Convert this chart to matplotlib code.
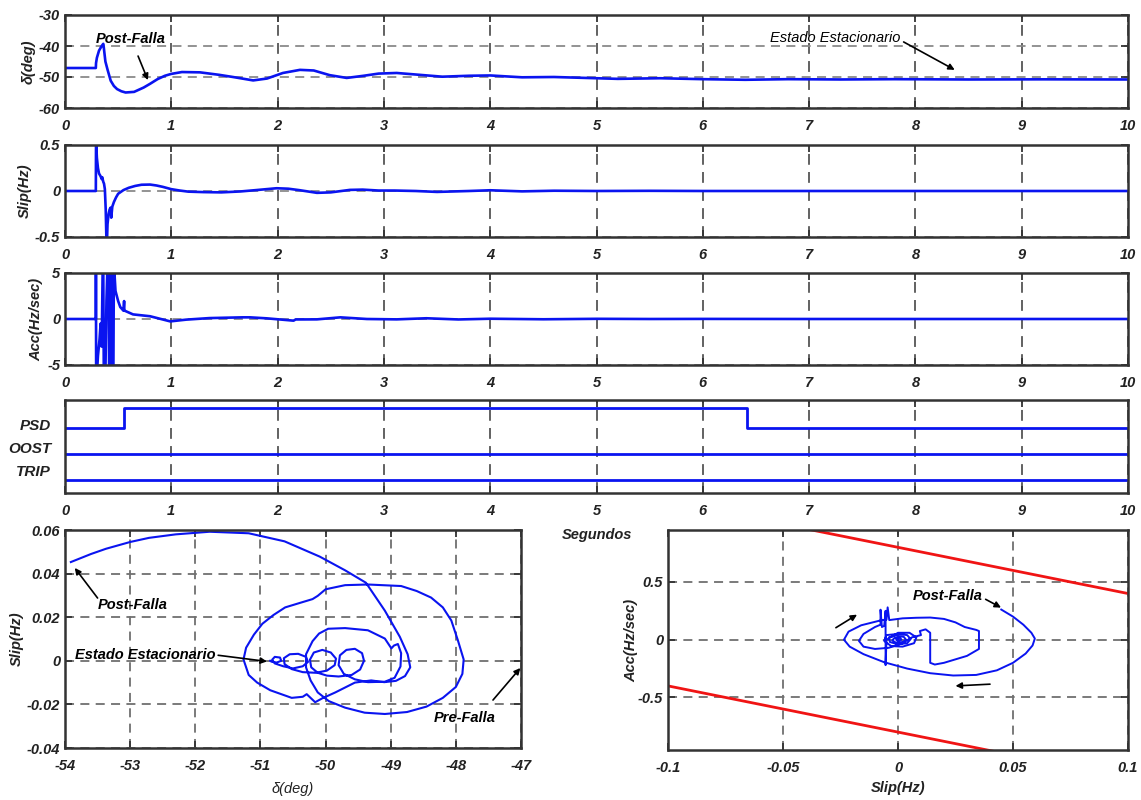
import matplotlib
matplotlib.use("Agg")
import matplotlib.pyplot as plt

plt.rcParams['font.family'] = ['Liberation Sans', 'DejaVu Sans']
plt.rcParams['font.weight'] = 'bold'
plt.rcParams['font.style'] = 'italic'
plt.rcParams['axes.unicode_minus'] = False

BLUE = '#0a14f0'
RED = '#f01414'

# ---------------- time series ----------------
delta_t = [0, 0.29, 0.292, 0.30, 0.32, 0.345, 0.36, 0.365, 0.37, 0.38, 0.40, 0.43, 0.46,
           0.49, 0.53, 0.57, 0.65, 0.74, 0.80, 0.87, 0.94, 1.0, 1.1, 1.27, 1.45, 1.58, 1.77,
           1.9, 2.05, 2.21, 2.34, 2.49, 2.65, 2.81, 2.95, 3.12, 3.3, 3.55, 3.8, 4.0, 4.3,
           4.6, 4.9, 5.2, 5.6, 6.0, 6.4, 6.8, 7.3, 7.8, 8.5, 9.2, 10.0]
delta_v = [-47.1, -47.1, -45.5, -43.8, -41.5, -40.0, -39.3, -40.5, -42.0, -45.0, -47.6,
           -51.2, -52.9, -53.9, -54.6, -55.0, -54.8, -53.4, -52.2, -50.7, -49.6, -49.0,
           -48.4, -48.5, -49.3, -50.0, -51.1, -50.5, -48.7, -47.7, -47.9, -49.4, -50.3,
           -49.6, -48.9, -48.7, -49.2, -49.9, -49.6, -49.5, -50.1, -50.0, -50.3, -50.6,
           -50.4, -50.7, -50.9, -50.7, -50.8, -50.7, -50.8, -50.75, -50.8]

slip_t = [0, 0.29, 0.292, 0.30, 0.31, 0.32, 0.335, 0.345, 0.35, 0.36, 0.367, 0.375, 0.383,
          0.39, 0.395, 0.40, 0.41, 0.42, 0.43, 0.435, 0.445, 0.46, 0.48, 0.50, 0.55, 0.6,
          0.66, 0.72, 0.8, 0.86, 0.92, 1.0, 1.08, 1.16, 1.3, 1.47, 1.65, 1.8, 1.99, 2.1,
          2.2, 2.37, 2.5, 2.68, 2.8, 2.95, 3.1, 3.3, 3.5, 3.8, 4.0, 4.3, 4.6, 5.0, 5.5,
          6.0, 7.0, 8.0, 9.0, 10.0]
slip_v = [0, 0, 0.55, 0.36, 0.25, 0.19, 0.16, 0.13, 0.15, 0.10, 0.08, 0.02, -0.2, -0.55,
          -0.55, -0.36, -0.25, -0.2, -0.18, -0.29, -0.17, -0.12, -0.07, -0.03, 0.01, 0.035,
          0.055, 0.068, 0.07, 0.06, 0.045, 0.02, 0.005, -0.007, -0.012, -0.015, -0.005,
          0.01, 0.03, 0.025, 0.01, -0.02, -0.015, 0.012, 0.015, 0.005, 0.005, 0.0, -0.01,
          0.0, 0.008, -0.004, 0.003, 0.0, 0.002, 0, 0, 0, 0, 0]

acc_t = [0, 0.29, 0.291, 0.293, 0.30, 0.31, 0.325, 0.335, 0.345, 0.355, 0.36, 0.365,
         0.38, 0.39, 0.40, 0.41, 0.415, 0.42, 0.43, 0.44, 0.445, 0.455, 0.46, 0.475,
         0.50, 0.52, 0.55, 0.556, 0.558, 0.562, 0.64, 0.80, 0.99, 1.14, 1.36, 1.67, 1.74,
         1.9, 2.15, 2.17, 2.37, 2.59, 2.84, 3.12, 3.4, 3.7, 4.0, 4.5, 5.0, 5.5, 6.0, 7.0,
         8.0, 9.0, 10.0]
acc_v = [0, 0, 6, -6, -6, -4, -2.2, -0.5, -3, 6, 6, -6, -6, 2, 6, 6, -6, -6, 6, 6, -6,
         -6, 6, 3.05, 1.95, 1.3, 0.9, 1.95, 1.0, 0.9, 0.5, 0.3, -0.26, -0.07, 0.1, 0.18,
         0.18, 0.07, -0.18, -0.05, -0.04, 0.18, 0.0, -0.04, 0.08, -0.05, 0.03, -0.03,
         0.02, 0.0, 0.01, 0.0, 0.0, 0.0, 0.0]

psd_t = [0, 0.555, 0.555, 6.42, 6.42, 10.0]
psd_bit = [0, 0, 1, 1, 0, 0]
oost_t = [0, 10.0]
oost_bit = [0, 0]
trip_t = [0, 10.0]
trip_bit = [0, 0]
status_names = ['PSD', 'OOST', 'TRIP']
time_ticks = list(range(0, 11))

# ---------------- delta-slip trajectory ----------------
traj_delta = [
    -53.91, -53.6, -53.37, -53.0, -52.71, -52.3, -51.78, -51.18, -50.63, -50.09, -49.7,
    -49.38, -49.09, -48.86, -48.74, -48.70, -48.78, -48.92, -49.1, -49.3, -49.55, -49.85,
    -50.05, -50.16, -50.29, -50.35, -50.52, -50.85, -51.05, -51.18, -51.26,
    -51.22, -51.1, -50.97, -50.8, -50.62, -50.4, -50.2, -50.12, -50.0, -49.7, -49.35,
    -48.84, -48.6, -48.38, -48.2, -48.07, -47.97, -47.88, -47.9, -48.0, -48.2, -48.45,
    -48.75, -49.09, -49.4, -49.7, -49.95, -50.12, -50.23, -50.3, -50.3, -50.2, -50.1,
    -49.96, -49.7, -49.35, -49.09, -48.99, -48.95, -48.89, -48.84, -48.85, -48.94,
    -49.09, -49.35,
    -49.55, -49.72, -49.8, -49.78, -49.68, -49.55, -49.44, -49.41, -49.47, -49.6, -49.8,
    -49.98, -50.12, -50.22, -50.24, -50.18, -50.05, -49.92, -49.84, -49.86, -49.98,
    -50.15, -50.35, -50.52, -50.63, -50.64, -50.55, -50.42, -50.3, -50.27, -50.35,
    -50.5, -50.65, -50.78, -50.82, -50.78, -50.7, -50.68, -50.75, -50.83, -50.85]
traj_slip = [
    0.0453, 0.049, 0.0514, 0.0545, 0.0564, 0.058, 0.0592, 0.0585, 0.0548, 0.0478, 0.0415,
    0.0358, 0.0230, 0.0110, 0.0030, -0.0030, -0.0070, -0.0092, -0.0098, -0.0090, -0.0100,
    -0.0145, -0.0172, -0.0190, -0.0153, -0.0165, -0.0170, -0.0135, -0.0100, -0.0065,
    0.0006,
    0.0060, 0.0120, 0.0170, 0.0210, 0.0245, 0.0265, 0.0283, 0.0298, 0.0328, 0.0347,
    0.0350, 0.0343, 0.0320, 0.0290, 0.0245, 0.0185, 0.0095, 0.0006, -0.0060, -0.0120,
    -0.0170, -0.0210, -0.0235, -0.0244, -0.0238, -0.0215, -0.0185, -0.0145, -0.0090,
    -0.0030, 0.0030, 0.0090, 0.0125, 0.0147, 0.0150, 0.0140, 0.0102, 0.0057, 0.0070,
    0.0077, 0.0035, -0.0026, -0.0078, -0.0096, -0.0098,
    -0.0085, -0.0060, -0.0020, 0.0025, 0.0050, 0.0055, 0.0035, 0.0, -0.0040, -0.0065,
    -0.0072, -0.0068, -0.0055, -0.0030, 0.0005, 0.0038, 0.0050, 0.0038, 0.0010, -0.0020,
    -0.0045, -0.0055, -0.0052, -0.0038, -0.0015, 0.0012, 0.0030, 0.0032, 0.0018,
    -0.0005, -0.0025, -0.0035, -0.0025, -0.0012, 0.0005, 0.0018, 0.0015, 0.0, -0.0008,
    -0.0004, 0.0]

# ---------------- slip-acceleration trajectory ----------------
sa_slip = [0.0449, 0.0500, 0.0545, 0.0580, 0.0595, 0.0585, 0.0555, 0.0500, 0.0430,
           0.0340, 0.0240, 0.0140, 0.0040, -0.0060, -0.0150, -0.0210, -0.0235, -0.0215,
           -0.0160, -0.0080, -0.0050, -0.0045, -0.0038, 0.0020, 0.0080, 0.0140, 0.0200,
           0.0250, 0.0290, 0.0340, 0.0352, 0.0352, 0.0300, 0.0200, 0.0160, 0.0140, 0.0140,
           0.0120, 0.0095, 0.0100, 0.0060, 0.0020, -0.0040, -0.0100, -0.0150, -0.0170,
           -0.0150, -0.0100, -0.0076, -0.0076, -0.0070, -0.0060, -0.0054, -0.0054,
           -0.0050, 0.0000, 0.0050, 0.0080, 0.0070, 0.0020, -0.0030, -0.0060, -0.0050,
           0.0000, 0.0040, 0.0055, 0.0040, 0.0000, -0.0035, -0.0040, -0.0010, 0.0025,
           0.0035, 0.0020, -0.0010, -0.0025, -0.0015, 0.0010, 0.0015, 0.0000, -0.0008,
           0.0000]
sa_acc = [0.261, 0.200, 0.130, 0.060, 0.010, -0.050, -0.120, -0.200, -0.265, -0.305,
          -0.310, -0.290, -0.250, -0.195, -0.125, -0.060, 0.000, 0.070, 0.125, 0.165,
          0.175, 0.280, 0.170, 0.185, 0.190, 0.192, 0.180, 0.150, 0.110, 0.085, 0.075,
          -0.080, -0.140, -0.200, -0.215, -0.200, 0.060, 0.090, 0.075, 0.040, 0.020,
          -0.030, -0.070, -0.080, -0.060, -0.010, 0.050, 0.110, 0.130, 0.260, 0.110,
          0.120, 0.250, -0.220, 0.000, 0.060, 0.060, 0.020, -0.030, -0.060, -0.055,
          -0.010, 0.040, 0.050, 0.040, 0.005, -0.030, -0.040, -0.020, 0.020, 0.035,
          0.025, 0.000, -0.020, -0.025, -0.005, 0.015, 0.015, 0.000, -0.010, 0.000, 0.005]

# protection boundaries (slip, acc)
blinder_slip = [-0.1, 0.1]
blinder_upper = [1.2, 0.4]
blinder_lower = [-0.4, -1.2]

# ---------------- figure ----------------
W, H = 1141, 800
fig = plt.figure(figsize=(W / 100, H / 100), dpi=100)


def rect(l, t, r, b):
    return [l / W, 1 - b / H, (r - l) / W, (b - t) / H]


TICKFS = 10.5
SPINE = '#333333'


def style_axes(ax, xpad=8):
    for s in ax.spines.values():
        s.set_color(SPINE)
        s.set_linewidth(1.8)
    ax.tick_params(direction='in', length=5, width=1.3, colors=SPINE,
                   top=True, right=True, labelsize=TICKFS, labelcolor='#222222')
    ax.tick_params(axis='x', pad=xpad)
    for lab in ax.get_xticklabels() + ax.get_yticklabels():
        lab.set_fontweight('bold')
        lab.set_fontstyle('italic')


def time_grid(ax, horizontal=True):
    ax.xaxis.grid(True, color='#555555', linestyle=(0, (6, 4)), linewidth=1.3)
    if horizontal:
        ax.yaxis.grid(True, color='#8a8a8a', linestyle=(0, (5, 3.5)), linewidth=1.3)
    ax.set_axisbelow(True)


lab_kw = dict(fontsize=10.5, fontweight='bold', fontstyle='italic', color='#222222')

# panel 1: rotor angle
ax1 = fig.add_axes(rect(65, 15, 1128, 108))
ax1.plot(delta_t, delta_v, color=BLUE, lw=1.9)
ax1.set_xlim(0, 10)
ax1.set_ylim(-60, -30)
ax1.set_yticks([-60, -50, -40, -30])
ax1.set_xticks(time_ticks)
time_grid(ax1)
style_axes(ax1)
ax1.set_ylabel('δ(deg)', **lab_kw)
ax1.yaxis.set_label_coords(-0.028, 0.5)
ax1.annotate('Post-Falla', xy=(0.78, -51.0), xytext=(0.62, -37.6),
             ha='center', va='center', fontsize=10.5, fontweight='bold',
             fontstyle='italic',
             arrowprops=dict(arrowstyle='-|>', color='k', lw=1.2, mutation_scale=9,
                             shrinkA=6, shrinkB=0))
ax1.annotate('Estado Estacionario', xy=(8.37, -47.7), xytext=(7.25, -37.3),
             ha='center', va='center', fontsize=10.5, fontstyle='italic',
             fontweight='normal',
             arrowprops=dict(arrowstyle='-|>', color='k', lw=1.2, mutation_scale=9,
                             shrinkA=0, shrinkB=0, relpos=(1.0, 0.3)))

# panel 2: slip
ax2 = fig.add_axes(rect(65, 145, 1128, 237))
ax2.plot(slip_t, slip_v, color=BLUE, lw=1.9)
ax2.set_xlim(0, 10)
ax2.set_ylim(-0.5, 0.5)
ax2.set_yticks([-0.5, 0, 0.5])
ax2.set_yticklabels(['-0.5', '0', '0.5'])
ax2.set_xticks(time_ticks)
time_grid(ax2)
style_axes(ax2)
ax2.set_ylabel('Slip(Hz)', **lab_kw)
ax2.yaxis.set_label_coords(-0.031, 0.5)

# panel 3: acceleration
ax3 = fig.add_axes(rect(65, 273, 1128, 365))
ax3.plot(acc_t, acc_v, color=BLUE, lw=1.9)
ax3.set_xlim(0, 10)
ax3.set_ylim(-5, 5)
ax3.set_yticks([-5, 0, 5])
ax3.set_xticks(time_ticks)
time_grid(ax3)
style_axes(ax3)
ax3.set_ylabel('Acc(Hz/sec)', **lab_kw)
ax3.yaxis.set_label_coords(-0.020, 0.5)

# panel 4: logic signals
ax4 = fig.add_axes(rect(65, 400, 1128, 493))
offsets = [2.0, 1.0, 0.0]
for (tt, bits), off in zip([(psd_t, psd_bit), (oost_t, oost_bit), (trip_t, trip_bit)], offsets):
    ax4.plot(tt, [off + 0.77 * b for b in bits], color=BLUE, lw=2.0)
ax4.set_xlim(0, 10)
ax4.set_ylim(-0.5, 3.08)
ax4.set_xticks(time_ticks)
ax4.set_yticks([2.15, 1.27, 0.38])
ax4.set_yticklabels(status_names)
time_grid(ax4, horizontal=False)
style_axes(ax4)
ax4.tick_params(axis='y', length=0, pad=10, labelsize=11)

fig.text(597 / W, 1 - 535 / H, 'Segundos', ha='center', va='center',
         fontsize=10.5, fontweight='bold', fontstyle='italic', color='#222222')


def phase_grid(ax):
    ax.grid(True, color='#707070', linestyle=(0, (5, 3.5)), linewidth=1.3)
    ax.set_axisbelow(True)


# panel 5: delta vs slip
ax5 = fig.add_axes(rect(65, 530, 521, 748))
ax5.plot(traj_delta, traj_slip, color=BLUE, lw=1.5)
ax5.set_xlim(-54, -47)
ax5.set_ylim(-0.04, 0.06)
ax5.set_xticks(list(range(-54, -46)))
ax5.set_yticks([-0.04, -0.02, 0, 0.02, 0.04, 0.06])
ax5.set_yticklabels(['-0.04', '-0.02', '0', '0.02', '0.04', '0.06'])
phase_grid(ax5)
style_axes(ax5)
ax5.set_ylabel('Slip(Hz)', **lab_kw)
ax5.yaxis.set_label_coords(-0.09, 0.5)
ax5.set_xlabel('δ(deg)', fontsize=10.5, fontstyle='italic', fontweight='normal',
               color='#222222')
ax5.xaxis.set_label_coords(0.5, -0.155)
arrow_kw = dict(arrowstyle='-|>', color='k', lw=1.2, mutation_scale=9, shrinkA=0, shrinkB=0)
ax5.annotate('', xy=(-53.85, 0.0426), xytext=(-53.5, 0.0288), arrowprops=arrow_kw)
ax5.text(-52.96, 0.0255, 'Post-Falla', ha='center', va='center', fontsize=10.5,
         fontstyle='italic', fontweight='bold')
ax5.annotate('Estado Estacionario', xy=(-50.9, -0.0003), xytext=(-52.77, 0.0027),
             ha='center', va='center', fontsize=10.5, fontstyle='italic', fontweight='bold',
             arrowprops=dict(arrow_kw, relpos=(1.0, 0.5)))
ax5.annotate('', xy=(-47.01, -0.0033), xytext=(-47.43, -0.018), arrowprops=arrow_kw)
ax5.text(-47.86, -0.0262, 'Pre-Falla', ha='center', va='center', fontsize=10.5,
         fontstyle='italic', fontweight='bold')

# panel 6: slip vs acceleration
ax6 = fig.add_axes(rect(668, 530, 1128, 750))
ax6.plot(blinder_slip, blinder_upper, color=RED, lw=2.0)
ax6.plot(blinder_slip, blinder_lower, color=RED, lw=2.0)
ax6.plot(sa_slip, sa_acc, color=BLUE, lw=1.4)
ax6.set_xlim(-0.1, 0.1)
ax6.set_ylim(-0.955, 0.95)
ax6.set_xticks([-0.1, -0.05, 0, 0.05, 0.1])
ax6.set_xticklabels(['-0.1', '-0.05', '0', '0.05', '0.1'])
ax6.set_yticks([-0.5, 0, 0.5])
ax6.set_yticklabels(['-0.5', '0', '0.5'])
phase_grid(ax6)
style_axes(ax6)
ax6.set_ylabel('Acc(Hz/sec)', **lab_kw)
ax6.yaxis.set_label_coords(-0.065, 0.5)
ax6.set_xlabel('Slip(Hz)', **lab_kw)
ax6.xaxis.set_label_coords(0.5, -0.14)
ax6.annotate('Post-Falla', xy=(0.0448, 0.278), xytext=(0.0217, 0.375),
             ha='center', va='center', fontsize=10.5, fontstyle='italic', fontweight='bold',
             arrowprops=dict(arrow_kw, relpos=(1.0, 0.4)))
ax6.annotate('', xy=(-0.0178, 0.217), xytext=(-0.027, 0.104), arrowprops=arrow_kw)
ax6.annotate('', xy=(0.025, -0.40), xytext=(0.040, -0.385), arrowprops=arrow_kw)

fig.savefig('out.png', dpi=100)
